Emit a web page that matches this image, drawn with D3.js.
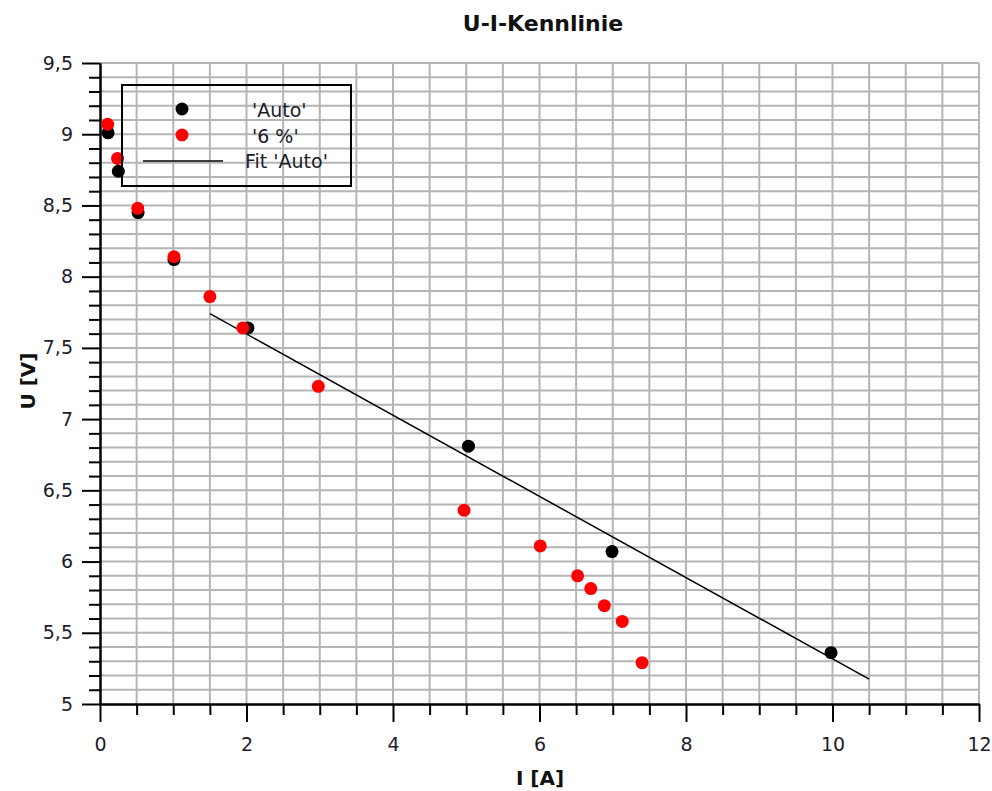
<!DOCTYPE html>
<html>
<head>
<meta charset="utf-8">
<script src="https://cdn.jsdelivr.net/npm/d3@7"></script>
<style>
  body { margin: 0; background: #fff; }
  text { font-family: "DejaVu Sans", Verdana, sans-serif; }
</style>
</head>
<body>
<svg id="chart" width="992" height="791"></svg>
<script>
// data
const autoI = [0.11, 0.25, 0.52, 1.01, 2.02, 5.03, 6.99, 9.98];
const autoU = [9.01, 8.74, 8.45, 8.12, 7.64, 6.81, 6.07, 5.36];

const pctI = [0.105, 0.24, 0.515, 1.01, 1.50, 1.95, 2.98, 4.97, 6.01, 6.52, 6.70, 6.885, 7.13, 7.40];
const pctU = [9.07, 8.83, 8.48, 8.14, 7.86, 7.64, 7.23, 6.36, 6.11, 5.90, 5.81, 5.69, 5.58, 5.29];

const fitI = [1.5, 10.5];
const fitU = [7.74, 5.175];

const xMajor = [0, 2, 4, 6, 8, 10, 12];
const xMinor = [0.5, 1, 1.5, 2.5, 3, 3.5, 4.5, 5, 5.5, 6.5, 7, 7.5, 8.5, 9, 9.5, 10.5, 11, 11.5];
const yMajor = [5, 5.5, 6, 6.5, 7, 7.5, 8, 8.5, 9, 9.5];

const legendNames = ["'Auto'", "'6 %'", "Fit 'Auto'"];

const svg = d3.select('#chart');
const pLeft = 100, pRight = 979, pTop = 63, pBottom = 704;

const x = d3.scaleLinear().domain([0, 12]).range([pLeft, pRight]);
const y = d3.scaleLinear().domain([5, 9.5]).range([pBottom, pTop]);

const de = d3.formatLocale({ decimal: ',', thousands: '.', grouping: [3], currency: ['', '€'] });
const fmt = de.format('~');

// grid
const gridColor = '#b5b5b5';
const hGrid = d3.range(51, 96).map(d => d / 10);
const vGrid = d3.range(1, 25).map(d => d / 2);
svg.append('g').selectAll('line').data(hGrid).join('line')
    .attr('x1', pLeft).attr('x2', pRight)
    .attr('y1', d => y(d)).attr('y2', d => y(d))
    .attr('stroke', gridColor).attr('stroke-width', 2);
svg.append('g').selectAll('line').data(vGrid).join('line')
    .attr('x1', d => x(d)).attr('x2', d => x(d))
    .attr('y1', pTop).attr('y2', pBottom)
    .attr('stroke', gridColor).attr('stroke-width', 2);

// axes
function styleAxis(g) {
    g.selectAll('path, line').attr('stroke', '#000').attr('stroke-width', 2);
    g.selectAll('text').attr('fill', '#1c1c2c').attr('font-size', 19);
}

svg.append('g').attr('transform', `translate(0,${pBottom})`)
    .call(d3.axisBottom(x).tickValues(xMinor).tickSize(11).tickFormat('').tickSizeOuter(0))
    .call(styleAxis);
svg.append('g').attr('transform', `translate(0,${pBottom})`)
    .call(d3.axisBottom(x).tickValues(xMajor).tickSize(18).tickPadding(16).tickFormat(fmt).tickSizeOuter(0))
    .call(styleAxis);

svg.append('g').attr('transform', `translate(${pLeft},0)`)
    .call(d3.axisLeft(y).tickValues(hGrid.filter(v => !yMajor.includes(v))).tickSize(11).tickFormat('').tickSizeOuter(0))
    .call(styleAxis);
svg.append('g').attr('transform', `translate(${pLeft},0)`)
    .call(d3.axisLeft(y).tickValues(yMajor).tickSize(18).tickPadding(9).tickFormat(fmt).tickSizeOuter(0))
    .call(styleAxis);

// fit line
const fitData = fitI.map((v, i) => [v, fitU[i]]);
svg.append('path')
    .datum(fitData)
    .attr('d', d3.line().x(d => x(d[0])).y(d => y(d[1])))
    .attr('fill', 'none').attr('stroke', '#000').attr('stroke-width', 1.5);

// points
const autoData = autoI.map((v, i) => [v, autoU[i]]);
const pctData = pctI.map((v, i) => [v, pctU[i]]);
svg.append('g').selectAll('circle').data(autoData).join('circle')
    .attr('cx', d => x(d[0])).attr('cy', d => y(d[1])).attr('r', 6.5).attr('fill', '#000');
svg.append('g').selectAll('circle').data(pctData).join('circle')
    .attr('cx', d => x(d[0])).attr('cy', d => y(d[1])).attr('r', 6.5).attr('fill', '#ff0000');

// legend
const lg = svg.append('g');
lg.append('rect').attr('x', 122).attr('y', 85).attr('width', 229).attr('height', 101)
    .attr('fill', 'none').attr('stroke', '#000').attr('stroke-width', 2);
lg.append('circle').attr('cx', 182).attr('cy', 109).attr('r', 6.5).attr('fill', '#000');
lg.append('circle').attr('cx', 182).attr('cy', 135).attr('r', 6.5).attr('fill', '#ff0000');
lg.append('line').attr('x1', 143).attr('x2', 223).attr('y1', 161).attr('y2', 161)
    .attr('stroke', '#000').attr('stroke-width', 1.5);
const legendX = [252, 252, 245];
lg.selectAll('text.lt').data(legendNames).join('text')
    .attr('class', 'lt')
    .attr('x', (d, i) => legendX[i]).attr('y', (d, i) => 117 + i * 25.5)
    .attr('font-size', 19).attr('fill', '#1c1c2c')
    .text(d => d);

// titles
svg.append('text').attr('x', 543).attr('y', 31).attr('text-anchor', 'middle')
    .attr('font-size', 22).attr('font-weight', 'bold').attr('fill', '#111')
    .text('U-I-Kennlinie');
svg.append('text').attr('x', 540).attr('y', 785).attr('text-anchor', 'middle')
    .attr('font-size', 20).attr('font-weight', 'bold').attr('fill', '#111')
    .text('I [A]');
svg.append('text').attr('transform', 'translate(35,381) rotate(-90)').attr('text-anchor', 'middle')
    .attr('font-size', 20).attr('font-weight', 'bold').attr('fill', '#111')
    .text('U [V]');
</script>
</body>
</html>
